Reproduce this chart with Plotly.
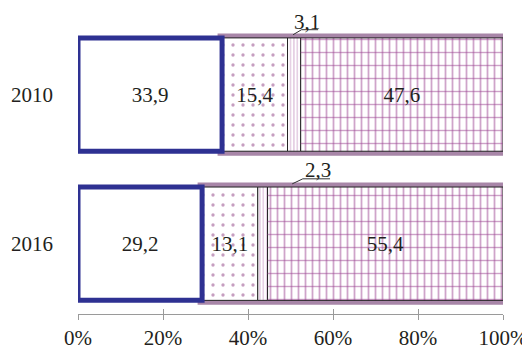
import plotly.graph_objects as go

years = ["2010", "2016"]
year_pos = [1, 0]
seg1 = [33.9, 29.2]
seg2 = [15.4, 13.1]
seg3 = [3.1, 2.3]
seg4 = [47.6, 55.4]
seg1_labels = ["33,9", "29,2"]
seg2_labels = ["15,4", "13,1"]
seg4_labels = ["47,6", "55,4"]
x_ticks = [0, 20, 40, 60, 80, 100]
x_tick_labels = ["0%", "20%", "40%", "60%", "80%", "100%"]

FONT = "Liberation Serif"
TXT = "#231f20"
BLUE = "#2e3192"
PURPLE_EDGE = "#a886a8"
PURPLE = "#8e3d82"
LIGHT = "#c08abb"
W = 0.76

base2 = [a for a in seg1]
base3 = [a + b for a, b in zip(seg1, seg2)]
base4 = [a + b + c for a, b, c in zip(seg1, seg2, seg3)]
rest = [b + c + d for b, c, d in zip(seg2, seg3, seg4)]

fig = go.Figure()

# outer purple outline of segments 2-4
fig.add_trace(go.Bar(
    y=year_pos, x=rest, base=base2, orientation="h", width=W,
    marker=dict(color="white", line=dict(color=PURPLE_EDGE, width=9)),
    cliponaxis=False, hoverinfo="skip", showlegend=False))

# segment 2: dots
fig.add_trace(go.Bar(
    y=year_pos, x=seg2, base=base2, orientation="h", width=W,
    marker=dict(color="white", line=dict(color="#222", width=1),
                pattern=dict(shape=".", fgcolor=PURPLE, bgcolor="white",
                             size=10, solidity=0.09, fillmode="overlay")),
    text=seg2_labels, textposition="inside", insidetextanchor="middle",
    textangle=0, textfont=dict(family=FONT, size=21, color=TXT),
    cliponaxis=False, hoverinfo="skip", showlegend=False))

# segment 3: vertical lines
fig.add_trace(go.Bar(
    y=year_pos, x=seg3, base=base3, orientation="h", width=W,
    marker=dict(color="white", line=dict(color="#222", width=1),
                pattern=dict(shape="|", fgcolor=LIGHT, bgcolor="white",
                             size=3.4, solidity=0.4, fillmode="overlay")),
    cliponaxis=False, hoverinfo="skip", showlegend=False))

# segment 4: grid (vertical lines)
fig.add_trace(go.Bar(
    y=year_pos, x=seg4, base=base4, orientation="h", width=W,
    marker=dict(color="white", line=dict(color="#222", width=1),
                pattern=dict(shape="|", fgcolor="#a04a96", bgcolor="white",
                             size=7, solidity=0.26, fillmode="overlay")),
    cliponaxis=False, hoverinfo="skip", showlegend=False))

# segment 4: grid (horizontal lines)
fig.add_trace(go.Bar(
    y=year_pos, x=seg4, base=base4, orientation="h", width=W,
    marker=dict(color="rgba(0,0,0,0)", line=dict(width=0),
                pattern=dict(shape="-", fgcolor="#9c4592", bgcolor="rgba(0,0,0,0)",
                             size=13, solidity=0.11, fillmode="overlay")),
    text=seg4_labels, textposition="inside", insidetextanchor="middle",
    textangle=0, textfont=dict(family=FONT, size=21, color=TXT),
    cliponaxis=False, hoverinfo="skip", showlegend=False))

# segment 1: white with thick blue border
fig.add_trace(go.Bar(
    y=year_pos, x=seg1, base=[0, 0], orientation="h", width=W,
    marker=dict(color="white", line=dict(color=BLUE, width=5)),
    text=seg1_labels, textposition="inside", insidetextanchor="middle",
    textangle=0, textfont=dict(family=FONT, size=21, color=TXT),
    cliponaxis=False, hoverinfo="skip", showlegend=False))

# callouts for small segment 3
callouts = [
    dict(text="3,1", tx=53.9, ty=1.485, x0=50.6, y0=1.401, x1=52.6, y1=1.435, x2=56.5),
    dict(text="2,3", tx=56.4, ty=0.495, x0=50.4, y0=0.401, x1=52.9, y1=0.435, x2=59.3),
]
for c in callouts:
    fig.add_annotation(x=c["tx"], y=c["ty"], xref="x", yref="y", text=c["text"],
                       showarrow=False, font=dict(family=FONT, size=21, color=TXT))
    fig.add_shape(type="path", xref="x", yref="y",
                  path=f"M {c['x0']},{c['y0']} L {c['x1']},{c['y1']} L {c['x2']},{c['y1']}",
                  line=dict(color="#333", width=1))

# page body has an 8px default margin; size the figure to fit the window
fig.update_layout(
    width=522, height=339,
    margin=dict(l=70, r=27, t=12, b=33, autoexpand=False),
    barmode="overlay",
    plot_bgcolor="white", paper_bgcolor="white",
    font=dict(family=FONT, size=21, color=TXT),
    xaxis=dict(range=[0, 100], tickvals=x_ticks, ticktext=x_tick_labels,
               showgrid=False, zeroline=False, showline=True, linecolor="#9a9a9a",
               linewidth=1, ticks="outside", ticklen=5, tickcolor="#9a9a9a",
               tickfont=dict(family=FONT, size=21, color=TXT), ticklabelstandoff=0,
               automargin=False),
    xaxis2=dict(range=[0, 100], overlaying="x", side="bottom", anchor="y",
                tickvals=x_ticks, showticklabels=False, showgrid=False,
                zeroline=False, ticks="inside", ticklen=5, tickcolor="#9a9a9a",
                automargin=False),
    yaxis=dict(range=[-0.4715, 1.5], tickvals=year_pos, ticktext=years,
               showgrid=False, zeroline=False, showline=False, ticks="",
               tickfont=dict(family=FONT, size=21, color=TXT), ticklabelstandoff=24,
               automargin=False),
)
# dummy trace to activate xaxis2
fig.add_trace(go.Scatter(x=[0], y=[-1], xaxis="x2", mode="markers",
                         marker=dict(opacity=0), hoverinfo="skip", showlegend=False))

fig.write_html("out.html")
